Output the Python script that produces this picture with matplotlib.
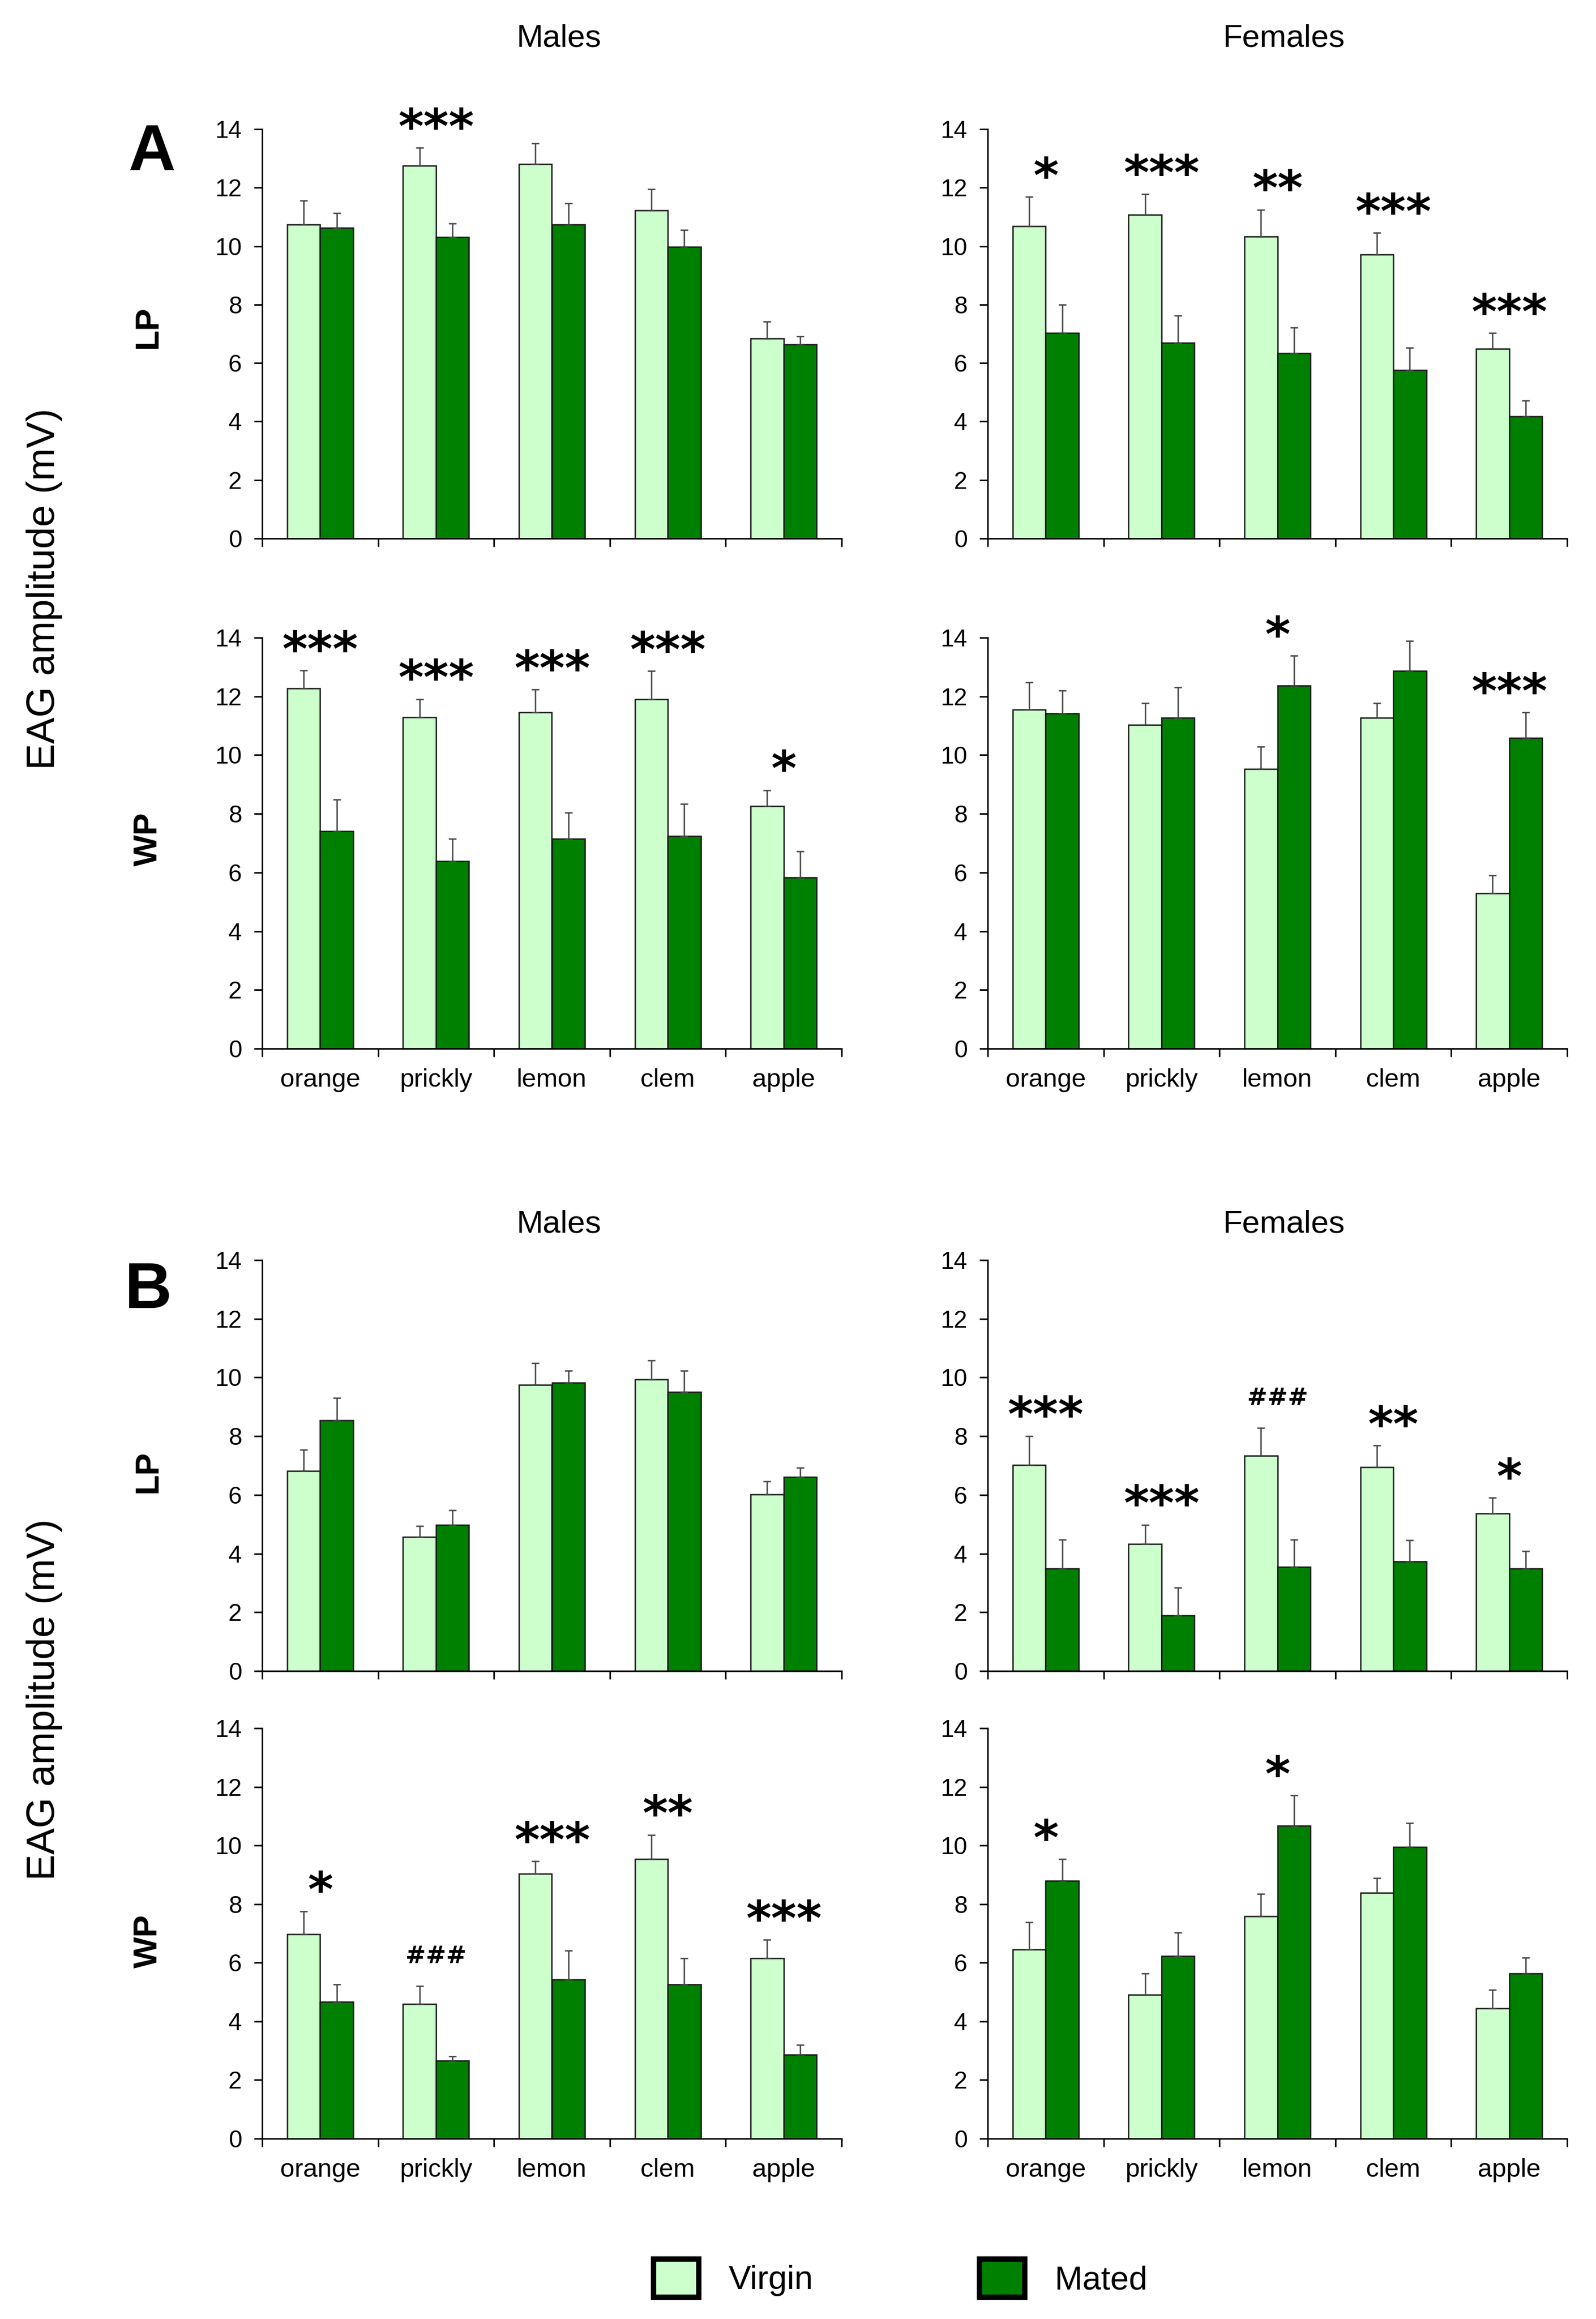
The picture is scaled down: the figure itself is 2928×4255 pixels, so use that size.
import matplotlib
matplotlib.use('Agg')
import matplotlib.pyplot as plt
from matplotlib.patches import Patch
import numpy as np

plt.rcParams['font.family'] = ['Liberation Sans', 'DejaVu Sans']

categories = ['orange', 'prickly', 'lemon', 'clem', 'apple']
series_names = ['Virgin', 'Mated']
yticks = [0, 2, 4, 6, 8, 10, 12, 14]

# ---- Panel A, LP, Males
a_lp_m_virgin = [10.73, 12.75, 12.81, 11.22, 6.84]
a_lp_m_virgin_se = [0.83, 0.61, 0.71, 0.73, 0.58]
a_lp_m_mated = [10.63, 10.31, 10.73, 9.98, 6.63]
a_lp_m_mated_se = [0.50, 0.47, 0.73, 0.57, 0.28]
a_lp_m_sig = ['', '***', '', '', '']

# ---- Panel A, LP, Females
a_lp_f_virgin = [10.68, 11.07, 10.32, 9.71, 6.49]
a_lp_f_virgin_se = [1.00, 0.71, 0.93, 0.75, 0.54]
a_lp_f_mated = [7.03, 6.69, 6.34, 5.76, 4.18]
a_lp_f_mated_se = [0.96, 0.93, 0.88, 0.76, 0.54]
a_lp_f_sig = ['*', '***', '**', '***', '***']

# ---- Panel A, WP, Males
a_wp_m_virgin = [12.28, 11.29, 11.45, 11.90, 8.27]
a_wp_m_virgin_se = [0.60, 0.62, 0.78, 0.96, 0.54]
a_wp_m_mated = [7.40, 6.38, 7.14, 7.25, 5.83]
a_wp_m_mated_se = [1.08, 0.76, 0.90, 1.09, 0.90]
a_wp_m_sig = ['***', '***', '***', '***', '*']

# ---- Panel A, WP, Females
a_wp_f_virgin = [11.54, 11.03, 9.53, 11.27, 5.30]
a_wp_f_virgin_se = [0.94, 0.74, 0.75, 0.50, 0.61]
a_wp_f_mated = [11.42, 11.27, 12.36, 12.86, 10.58]
a_wp_f_mated_se = [0.77, 1.04, 1.03, 1.02, 0.87]
a_wp_f_sig = ['', '', '*', '', '***']

# ---- Panel B, LP, Males
b_lp_m_virgin = [6.82, 4.56, 9.75, 9.94, 6.02]
b_lp_m_virgin_se = [0.71, 0.38, 0.74, 0.65, 0.45]
b_lp_m_mated = [8.55, 4.98, 9.82, 9.50, 6.61]
b_lp_m_mated_se = [0.75, 0.50, 0.41, 0.73, 0.32]
b_lp_m_sig = ['', '', '', '', '']

# ---- Panel B, LP, Females
b_lp_f_virgin = [7.02, 4.32, 7.34, 6.94, 5.36]
b_lp_f_virgin_se = [0.99, 0.66, 0.95, 0.74, 0.54]
b_lp_f_mated = [3.50, 1.90, 3.55, 3.74, 3.50]
b_lp_f_mated_se = [0.97, 0.95, 0.92, 0.71, 0.58]
b_lp_f_sig = ['***', '***', '###', '**', '*']

# ---- Panel B, WP, Males
b_wp_m_virgin = [6.98, 4.60, 9.03, 9.53, 6.15]
b_wp_m_virgin_se = [0.78, 0.61, 0.43, 0.83, 0.63]
b_wp_m_mated = [4.66, 2.65, 5.42, 5.27, 2.87]
b_wp_m_mated_se = [0.60, 0.16, 0.99, 0.88, 0.32]
b_wp_m_sig = ['*', '###', '***', '**', '***']

# ---- Panel B, WP, Females
b_wp_f_virgin = [6.46, 4.90, 7.59, 8.38, 4.44]
b_wp_f_virgin_se = [0.93, 0.74, 0.75, 0.51, 0.64]
b_wp_f_mated = [8.79, 6.22, 10.68, 9.94, 5.64]
b_wp_f_mated_se = [0.75, 0.80, 1.03, 0.83, 0.54]
b_wp_f_sig = ['*', '', '*', '', '']

VIRGIN_C = '#ccffcc'
MATED_C = '#008000'

W, H = 2928, 4255
fig = plt.figure(figsize=(W / 200, H / 200), dpi=200)

col_left = {'M': 481, 'F': 1812}
col_width = 1063
row_top_bottom = {0: (237, 988), 1: (1170, 1924), 2: (2312, 3066), 3: (3171, 3924)}


def make_ax(row, col):
    t, b = row_top_bottom[row]
    l = col_left[col]
    return fig.add_axes([l / W, 1 - b / H, col_width / W, (b - t) / H])


panels = [
    (0, 'M', a_lp_m_virgin, a_lp_m_virgin_se, a_lp_m_mated, a_lp_m_mated_se, a_lp_m_sig),
    (0, 'F', a_lp_f_virgin, a_lp_f_virgin_se, a_lp_f_mated, a_lp_f_mated_se, a_lp_f_sig),
    (1, 'M', a_wp_m_virgin, a_wp_m_virgin_se, a_wp_m_mated, a_wp_m_mated_se, a_wp_m_sig),
    (1, 'F', a_wp_f_virgin, a_wp_f_virgin_se, a_wp_f_mated, a_wp_f_mated_se, a_wp_f_sig),
    (2, 'M', b_lp_m_virgin, b_lp_m_virgin_se, b_lp_m_mated, b_lp_m_mated_se, b_lp_m_sig),
    (2, 'F', b_lp_f_virgin, b_lp_f_virgin_se, b_lp_f_mated, b_lp_f_mated_se, b_lp_f_sig),
    (3, 'M', b_wp_m_virgin, b_wp_m_virgin_se, b_wp_m_mated, b_wp_m_mated_se, b_wp_m_sig),
    (3, 'F', b_wp_f_virgin, b_wp_f_virgin_se, b_wp_f_mated, b_wp_f_mated_se, b_wp_f_sig),
]

x = np.arange(len(categories))
bw = 0.285

for row, col, v, vse, m, mse, sig in panels:
    ax = make_ax(row, col)
    v = np.array(v); vse = np.array(vse)
    m = np.array(m); mse = np.array(mse)
    ax.bar(x - bw / 2, v, bw, color=VIRGIN_C, edgecolor='#1a1a1a', linewidth=0.9, zorder=2)
    ax.bar(x + bw / 2, m, bw, color=MATED_C, edgecolor='#1a1a1a', linewidth=0.9, zorder=2)
    ax.errorbar(x - bw / 2, v, yerr=[np.zeros_like(vse), vse], fmt='none',
                ecolor='#444444', elinewidth=0.9, capsize=2.5, capthick=0.9, zorder=3)
    ax.errorbar(x + bw / 2, m, yerr=[np.zeros_like(mse), mse], fmt='none',
                ecolor='#444444', elinewidth=0.9, capsize=2.5, capthick=0.9, zorder=3)
    tops = np.maximum(v + vse, m + mse)
    for i, s in enumerate(sig):
        if not s:
            continue
        if s.startswith('#'):
            ax.annotate(s, xy=(x[i], tops[i]), xytext=(0, 15), textcoords='offset points',
                        ha='center', va='baseline', fontsize=16, fontweight='bold',
                        family='DejaVu Sans', annotation_clip=False)
        else:
            ax.annotate(s, xy=(x[i], tops[i]), xytext=(0, 3), textcoords='offset points',
                        ha='center', va='baseline', fontsize=32, fontweight='bold',
                        family='DejaVu Sans', annotation_clip=False)
    ax.set_xlim(-0.5, len(categories) - 0.5)
    ax.set_ylim(0, 14)
    ax.set_yticks(yticks)
    ax.set_xticks(np.arange(len(categories) + 1) - 0.5)
    ax.set_xticklabels([])
    ax.set_xticks(x, minor=True)
    if row in (1, 3):
        ax.set_xticklabels(categories, minor=True, fontsize=17)
    ax.tick_params(axis='x', which='minor', length=0, pad=13)
    ax.tick_params(axis='x', which='major', direction='out', length=5.4, width=1.0)
    ax.tick_params(axis='y', direction='out', length=5.4, width=1.0, labelsize=16, pad=8)
    for sp in ('top', 'right'):
        ax.spines[sp].set_visible(False)
    for sp in ('left', 'bottom'):
        ax.spines[sp].set_linewidth(1.0)

# Titles
for ytitle in (71, 2246):
    fig.text(1025 / W, 1 - ytitle / H, 'Males', ha='center', va='center', fontsize=21)
    fig.text(2355 / W, 1 - ytitle / H, 'Females', ha='center', va='center', fontsize=21)

fig.text(278 / W, 1 - 282 / H, 'A', ha='center', va='center', fontsize=43, fontweight='bold')
fig.text(272 / W, 1 - 2369 / H, 'B', ha='center', va='center', fontsize=43, fontweight='bold')

for yy, lab in ((600, 'LP'), (1540, 'WP'), (2700, 'LP'), (3562, 'WP')):
    fig.text(272 / W, 1 - yy / H, lab, ha='center', va='center', rotation=90,
             fontsize=22, fontweight='bold')

for yy in ((237 + 1924) / 2, (2312 + 3924) / 2):
    fig.text(82 / W, 1 - yy / H, 'EAG amplitude (mV)', ha='center', va='center',
             rotation=90, fontsize=26)

handles = [Patch(facecolor=VIRGIN_C, edgecolor='black', linewidth=3.5),
           Patch(facecolor=MATED_C, edgecolor='black', linewidth=3.5)]
fig.legend(handles, series_names, loc='center', bbox_to_anchor=(1652 / W, 1 - 4180 / H),
           ncol=2, frameon=False, fontsize=22, handlelength=1.35, handleheight=1.4,
           handletextpad=0.9, columnspacing=5.0)

fig.savefig('out.png', dpi=200)
